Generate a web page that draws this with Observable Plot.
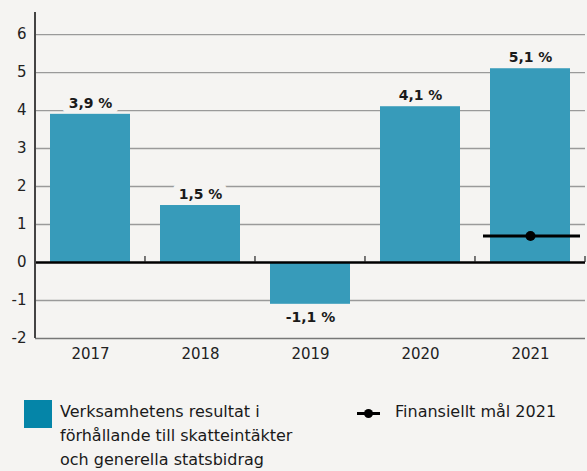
<!DOCTYPE html>
<html><head><meta charset="utf-8">
<script src="https://cdn.jsdelivr.net/npm/d3@7"></script>
<script src="https://cdn.jsdelivr.net/npm/@observablehq/plot@0.6"></script>
<style>
html,body{margin:0;padding:0;background:#f5f4f2;}
body{width:587px;height:471px;overflow:hidden;font-family:"DejaVu Sans","Noto Sans",sans-serif;color:#1a1a1a;}
#chart svg{display:block;background:#f5f4f2;}
.legend{position:relative;height:100px;font-size:16px;line-height:24px;}
.sw{position:absolute;left:24px;top:28px;width:28px;height:28px;background:#0585a8;}
.t1{position:absolute;left:60px;top:28px;}
.ln{position:absolute;left:357px;top:40px;width:23px;height:3px;background:#000;}
.dt{position:absolute;left:364px;top:37px;width:9px;height:9px;border-radius:50%;background:#000;}
.t2{position:absolute;left:395px;top:28px;}
</style></head>
<body>
<div id="chart"></div>
<div class="legend">
  <div class="sw"></div>
  <div class="t1">Verksamhetens resultat i<br>förhållande till skatteintäkter<br>och generella statsbidrag</div>
  <div class="ln"></div><div class="dt"></div>
  <div class="t2">Finansiellt mål 2021</div>
</div>
<script>
const years = ["2017","2018","2019","2020","2021"];
const results = [3.9, 1.5, -1.1, 4.1, 5.1];
const targetYear = ["2021"];
const targetValue = [0.7];
const yTicks = [-2,-1,0,1,2,3,4,5,6];

const data = years.map((y,i)=>({year:y, value:results[i]}));
const pos = data.filter(d => d.value >= 0);
const neg = data.filter(d => d.value < 0);
const target = targetYear.map((y,i)=>({year:y, value:targetValue[i]}));
const fmt = v => d3.format(".1f")(v).replace(".", ",").replace("\u2212", "-") + " %";
const FONT = "'DejaVu Sans', 'Noto Sans', sans-serif";

const labelOpts = (dy) => ({x: "year", y: "value", text: d => fmt(d.value), dy,
  fontWeight: "bold", fontSize: 14, fontFamily: FONT});

const chart = Plot.plot({
  width: 587,
  height: 372,
  marginLeft: 35,
  marginRight: 2,
  marginTop: 12,
  marginBottom: 34,
  style: {background: "#f5f4f2", fontFamily: FONT, fontSize: "15px", color: "#1a1a1a"},
  x: {domain: years, paddingInner: 0.273, paddingOuter: 0.136, label: null, axis: null},
  y: {domain: [-2, 6.58], label: null, axis: null},
  marks: [
    Plot.gridY(yTicks.filter(d=>d!==0 && d!==-2), {stroke: "#9a9a9a", strokeOpacity: 1, strokeWidth: 1.3}),
    Plot.text(pos, {...labelOpts(-11), fill: "none", stroke: "#f5f4f2", strokeWidth: 14}),
    Plot.text(neg, {...labelOpts(13), fill: "none", stroke: "#f5f4f2", strokeWidth: 14}),
    Plot.barY(data, {x: "year", y: "value", fill: "#379bba"}),
    Plot.ruleY([0], {stroke: "#000", strokeWidth: 2.4}),
    Plot.ruleY([-2], {stroke: "#777", strokeWidth: 1.3}),
    Plot.axisY({ticks: yTicks, tickFormat: d => String(d), tickSize: 0, tickPadding: 9, fontSize: 15, fill: "#222"}),
    Plot.axisX({tickSize: 0, tickPadding: 10, fontSize: 15, fill: "#222"}),
    Plot.text(pos, {...labelOpts(-11), fill: "#1a1a1a"}),
    Plot.text(neg, {...labelOpts(13), fill: "#1a1a1a"}),
    Plot.tickY(target, {x: "year", y: "value", stroke: "#000", strokeWidth: 3, insetLeft: -7, insetRight: -10}),
    Plot.dot(target, {x: "year", y: "value", r: 5, fill: "#000"})
  ]
});
document.getElementById("chart").append(chart);

// y-axis line and separator ticks on the zero line, positioned from the chart's own scales
const svg = d3.select(chart);
const xs = chart.scale("x"), ys = chart.scale("y");
const step = (xs.range[1] - xs.range[0]) / (years.length - xs.paddingInner + 2 * xs.paddingOuter);
const y0 = ys.apply(0);
svg.append("line")
  .attr("x1", xs.range[0]).attr("x2", xs.range[0])
  .attr("y1", ys.range[1] ?? 12).attr("y2", ys.apply(-2))
  .attr("stroke", "#444").attr("stroke-width", 2);
const bounds = years.slice(1).map(y => xs.apply(y) - step * xs.paddingInner / 2);
bounds.push(xs.range[1]);
bounds.forEach(bx => {
  svg.append("line").attr("x1", bx).attr("x2", bx).attr("y1", y0).attr("y2", y0 - 6)
    .attr("stroke", "#222").attr("stroke-width", 1.2);
});
</script>
</body></html>
